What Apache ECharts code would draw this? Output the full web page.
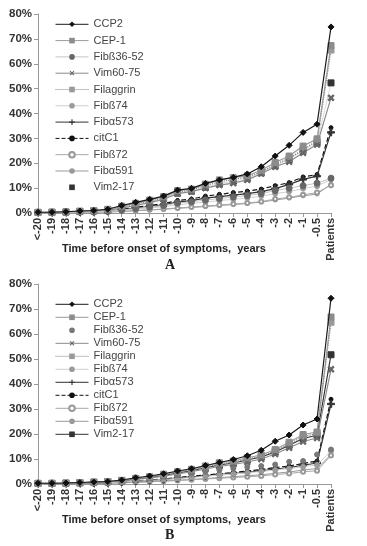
<!DOCTYPE html>
<html><head><meta charset="utf-8">
<script src="https://cdn.jsdelivr.net/npm/echarts@6/dist/echarts.min.js"></script>
<style>html,body{margin:0;padding:0;background:#fff}#c{width:367px;height:546px}</style>
</head><body><div id="c"></div>
<script>
const categories = ['<-20','-19','-18','-17','-16','-15','-14','-13','-12','-11','-10','-9','-8','-7','-6','-5','-4','-3','-2','-1','-0.5','Patients'];
const yTicks = [0,10,20,30,40,50,60,70,80];
const names = ['CCP2','CEP-1','Fibß36-52','Vim60-75','Filaggrin','Fibß74','Fibα573','citC1','Fibß72','Fibα591','Vim2-17'];

// Panel A values (%)
const A_CCP2     = [0.3,0.3,0.5,0.8,1.0,1.5,3.0,4.3,5.5,6.8,9.2,9.9,11.9,13.3,14.3,15.7,18.6,22.9,27.2,32.4,35.7,74.8];
const A_CEP1     = [0.3,0.3,0.5,0.8,1.0,1.5,2.8,3.9,5.2,6.6,9.0,9.6,11.6,13.3,14.2,15.0,17.2,20.3,22.9,26.9,29.8,67.3];
const A_Fibb3652 = [0.2,0.2,0.3,0.4,0.5,0.7,1.2,1.8,2.4,3.0,4.0,4.5,5.2,5.8,6.4,7.0,7.8,9.0,10.0,11.0,12.0,14.0];
const A_Vim6075  = [0.2,0.2,0.3,0.5,0.8,1.0,2.0,3.0,4.2,5.5,7.8,8.6,10.0,11.2,12.0,13.3,15.8,18.6,20.6,24.2,27.5,46.3];
const A_Filaggrin= [0.2,0.3,0.4,0.6,0.9,1.3,2.5,3.6,4.8,6.0,8.5,9.2,11.0,12.5,13.5,14.5,16.5,19.5,22.0,25.5,29.0,65.5];
const A_Fibb74   = [0.2,0.2,0.2,0.3,0.4,0.6,1.0,1.5,2.0,2.5,3.3,3.8,4.4,5.0,5.5,6.0,6.8,7.8,8.6,9.8,10.8,13.5];
const A_Fiba573  = [0.2,0.2,0.3,0.4,0.5,0.7,1.3,2.0,2.6,3.3,4.4,5.0,6.0,6.6,7.2,7.8,8.6,9.8,11.5,13.5,14.8,32.4];
const A_citC1    = [0.2,0.2,0.3,0.4,0.6,0.8,1.5,2.3,3.0,3.8,5.0,5.6,6.8,7.5,8.2,8.8,9.6,11.0,12.2,14.5,15.5,34.3];
const A_Fibb72   = [0.1,0.1,0.2,0.3,0.3,0.4,0.7,1.0,1.3,1.6,2.0,2.4,2.8,3.2,3.6,4.0,4.6,5.6,6.3,7.3,8.2,11.2];
const A_Fiba591  = [0.1,0.1,0.2,0.2,0.3,0.4,0.6,0.9,1.2,1.5,1.9,2.2,2.6,3.0,3.4,3.8,4.4,5.2,6.0,6.9,7.6,11.6];
const A_Vim217   = [0.2,0.3,0.4,0.6,0.8,1.1,2.2,3.3,4.5,5.8,8.0,8.8,10.4,11.8,12.8,14.0,16.2,19.0,21.5,25.2,28.2,52.3];

// Panel B values (%)
const B_CCP2     = [0.3,0.3,0.4,0.6,0.8,1.0,1.6,2.5,3.2,4.1,5.2,6.1,7.4,8.6,9.8,11.3,13.5,17.1,19.6,23.6,26.0,74.3];
const B_CEP1     = [0.3,0.3,0.4,0.6,0.8,1.0,1.5,2.3,2.9,3.9,4.9,5.9,7.2,8.5,9.2,10.5,11.6,13.8,16.7,19.8,20.8,66.8];
const B_Fibb3652 = [0.2,0.2,0.3,0.4,0.5,0.7,1.2,1.8,2.4,3.0,3.6,4.2,4.9,5.6,6.2,6.8,7.2,7.8,8.9,9.2,11.8,13.8];
const B_Vim6075  = [0.2,0.2,0.3,0.4,0.6,0.8,1.2,1.8,2.4,3.1,4.0,4.9,6.0,7.0,7.8,8.8,10.0,12.0,14.5,17.0,18.4,45.9];
const B_Filaggrin= [0.2,0.3,0.4,0.5,0.7,0.9,1.4,2.1,2.7,3.6,4.6,5.6,6.8,8.0,8.8,10.0,11.2,13.2,16.0,19.0,20.2,64.7];
const B_Fibb74   = [0.1,0.2,0.2,0.3,0.4,0.5,0.8,1.1,1.4,1.8,2.2,2.6,3.1,3.6,4.0,4.5,5.0,5.6,6.2,6.9,7.6,13.2];
const B_Fiba573  = [0.2,0.2,0.2,0.3,0.4,0.5,0.8,1.1,1.4,1.8,2.3,2.8,3.3,3.8,4.2,4.7,5.3,6.0,6.6,7.5,8.4,32.0];
const B_citC1    = [0.2,0.2,0.3,0.3,0.4,0.6,0.9,1.2,1.6,2.0,2.6,3.1,3.6,4.1,4.6,5.2,5.8,6.6,7.2,8.2,9.2,33.9];
const B_Fibb72   = [0.1,0.1,0.2,0.2,0.3,0.4,0.5,0.7,0.9,1.1,1.4,1.7,2.0,2.3,2.6,2.9,3.2,3.8,4.2,4.9,5.3,11.4];
const B_Fiba591  = [0.1,0.1,0.1,0.2,0.2,0.3,0.5,0.7,0.9,1.2,1.5,1.8,2.2,2.6,2.9,3.3,3.7,4.3,4.8,5.6,6.2,11.8];
const B_Vim217   = [0.2,0.2,0.3,0.5,0.7,0.9,1.3,2.0,2.6,3.4,4.4,5.3,6.5,7.6,8.4,9.6,10.8,12.8,15.5,18.2,19.5,51.7];

const dataA = [A_CCP2,A_CEP1,A_Fibb3652,A_Vim6075,A_Filaggrin,A_Fibb74,A_Fiba573,A_citC1,A_Fibb72,A_Fiba591,A_Vim217];
const dataB = [B_CCP2,B_CEP1,B_Fibb3652,B_Vim6075,B_Filaggrin,B_Fibb74,B_Fiba573,B_citC1,B_Fibb72,B_Fiba591,B_Vim217];

const PLUS = 'path://M4,0H6V4H10V6H6V10H4V6H0V4H4Z';
// styles: [lineColor, lineType, lineWidth, symbol, symbolSize, symbolColor, rotate]
const stylesA = [
  ['#1a1a1a','solid',1.2,'diamond',6,'#111',0],
  ['#9a9a9a','solid',1.2,'rect',6,'#8c8c8c',0],
  ['#c4c4c4','solid',1.0,'circle',6,'#666',0],
  ['#8a8a8a','solid',1.2,PLUS,7,'#666',45],
  ['#808080','dotted',1.2,'rect',6,'#9a9a9a',0],
  ['#cfcfcf','solid',1.0,'circle',5,'#9a9a9a',0],
  ['#333','solid',1.2,PLUS,7,'#333',0],
  ['#111','dashed',1.2,'circle',4,'#111',0],
  ['#a8a8a8','solid',1.0,'emptyCircle',4,'#999',0],
  ['#9a9a9a','solid',1.0,'circle',4,'#9a9a9a',0],
  ['#d0d0d0','solid',0.8,'rect',6,'#333',0]
];
const stylesB = stylesA.map(s => s.slice());
stylesB[2] = ['#c4c4c4','solid',0,'circle',5,'#777',0];
stylesB[10] = ['#333','solid',1.2,'rect',6,'#333',0];

function build(prefix, data, styles, idx){
  return names.map((n,i)=>{
    const s = styles[i];
    return {
      type:'line', name: prefix+n, xAxisIndex: idx, yAxisIndex: idx,
      data: data[i], symbol: s[3], symbolSize: s[4], symbolRotate: s[6],
      showAllSymbol: true, animation:false,
      lineStyle:{color:s[0], type:s[1], width:s[2], opacity: s[2]===0?0:1},
      itemStyle:{color:s[5], borderColor:s[5]},
      emphasis:{disabled:true}, z: 10 - (i%11)*0.1
    };
  });
}
const series = build('A:', dataA, stylesA, 0).concat(build('B:', dataB, stylesB, 1));

function legendFor(prefix, top, gap, styles){
  return {
    orient:'vertical', left:50, top: top, itemGap: gap, itemWidth:33, itemHeight:7,
    selectedMode:false,
    data: names.map((n,i)=>({
      name: prefix+n,
      lineStyle:{
        width: styles[i][2]===0 ? 0 : 1,
        type: styles[i][1],
        opacity: (styles[i][2]===0 || (prefix==='A:' && i===10)) ? 0 : 1,
        color: styles[i][0]
      }
    })),
    formatter: nm => nm.slice(2),
    textStyle:{fontFamily:'Liberation Sans, Arial', fontSize:11, color:'#444', lineHeight:12}
  };
}

const yAxisCommon = (idx)=>({
  type:'value', gridIndex: idx, min:0, max:80, interval:10,
  axisLine:{show:true, lineStyle:{color:'#999'}},
  axisTick:{show:true, length:4, lineStyle:{color:'#999'}},
  splitLine:{show:false},
  axisLabel:{formatter: v => v+'%', fontFamily:'Liberation Sans, Arial', fontWeight:'bold', fontSize:11.5, color:'#333', margin:6}
});
const xAxisCommon = (idx)=>({
  type:'category', gridIndex: idx, data: categories, boundaryGap:false,
  axisLine:{show:true, lineStyle:{color:'#999'}},
  axisTick:{show:true, length:4, interval:0, lineStyle:{color:'#999'}},
  axisLabel:{rotate:90, interval:0, fontFamily:'Liberation Sans, Arial', fontWeight:'bold', fontSize:11, color:'#333', margin:5}
});

const titleStyle = {fontFamily:'Liberation Sans, Arial', fontWeight:'bold', fontSize:11, fill:'#222'};
const option = {
  animation:false,
  backgroundColor:'#fff',
  grid:[{left:38, top:14, width:293, height:199},{left:38, top:284, width:293, height:200}],
  xAxis:[xAxisCommon(0), xAxisCommon(1)],
  yAxis:[yAxisCommon(0), yAxisCommon(1)],
  legend:[legendFor('A:', 13.3, 4.3, stylesA), legendFor('B:', 293.3, 1, stylesB)],
  series: series,
  graphic:[
    {type:'text', left:62, top:243, style:Object.assign({text:'Time before onset of symptoms,  years'}, titleStyle)},
    {type:'text', left:165, top:258, style:{text:'A', fontFamily:'Liberation Serif, Times New Roman', fontWeight:'bold', fontSize:14, fill:'#222'}},
    {type:'text', left:62, top:514, style:Object.assign({text:'Time before onset of symptoms,  years'}, titleStyle)},
    {type:'text', left:165, top:528, style:{text:'B', fontFamily:'Liberation Serif, Times New Roman', fontWeight:'bold', fontSize:14, fill:'#222'}}
  ]
};
const chart = echarts.init(document.getElementById('c'), null, {renderer:'canvas'});
chart.setOption(option);
</script></body></html>
